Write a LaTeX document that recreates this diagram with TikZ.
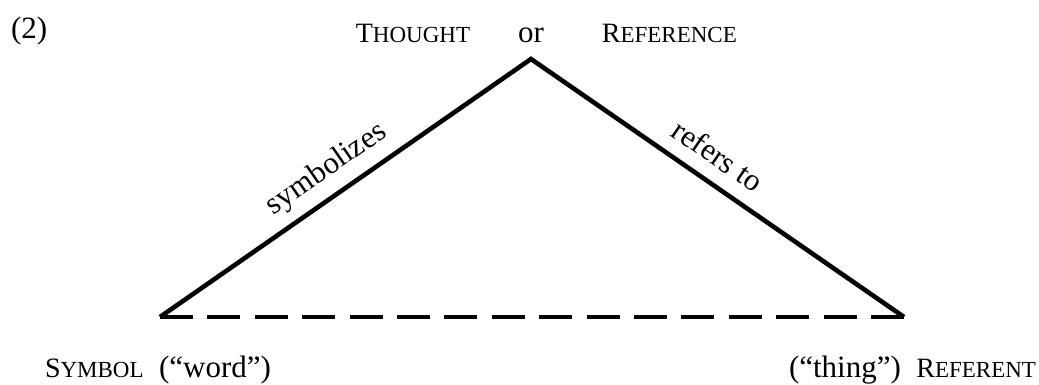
\documentclass[tikz,border=0pt]{standalone}
\usepackage{fontspec}
\setmainfont{Liberation Serif}
\usetikzlibrary{positioning}
\newcommand{\fakesc}[2]{{\fontsize{14}{17}\selectfont #1}{\fontsize{11.5}{13}\selectfont #2}}
\tikzset{
	lbl/.style={
		inner sep=0pt, outer sep=0pt,
		font={\fontsize{15.5}{18}\selectfont}
	},
	side/.style={line width=2.3pt, line join=miter},
	baseline dash/.style={line width=2.3pt, dash pattern=on 16.5pt off 7.2pt},
	>=stealth,
}
\def\unitpx{0.5pt}

\begin{document}
\begin{tikzpicture}[
x=\unitpx, y=-\unitpx, every node/.style={lbl}
]
\useasboundingbox (0,0) rectangle (1039,385);
\coordinate (thought) at (531,59);
\coordinate (symbol) at (160,317);
\coordinate (referent) at (904,317);
\node [anchor=base west] (num) at (11,39) {(2)};
\node [anchor=base] (or) at (531,43) {or};
\node [base left=24pt of or] (tht) {\fakesc{T}{HOUGHT}};
\node [base right=29pt of or] (ref) {\fakesc{R}{EFERENCE}};
\node [anchor=base west] (sym) at (45,377) {\fakesc{S}{YMBOL} \ (“word”)};
\node [anchor=base east] (thg) at (1036,377) {(“thing”) \ \fakesc{R}{EFERENT}};
\draw [side] (symbol) -- node [pos=0.49, sloped, above=6pt] (symb) {symbolizes}
	(thought) -- node [pos=0.46, sloped, above=8pt] (refto) {refers to} (referent);
\draw [baseline dash] (symbol) -- (referent);
\end{tikzpicture}
\end{document}
